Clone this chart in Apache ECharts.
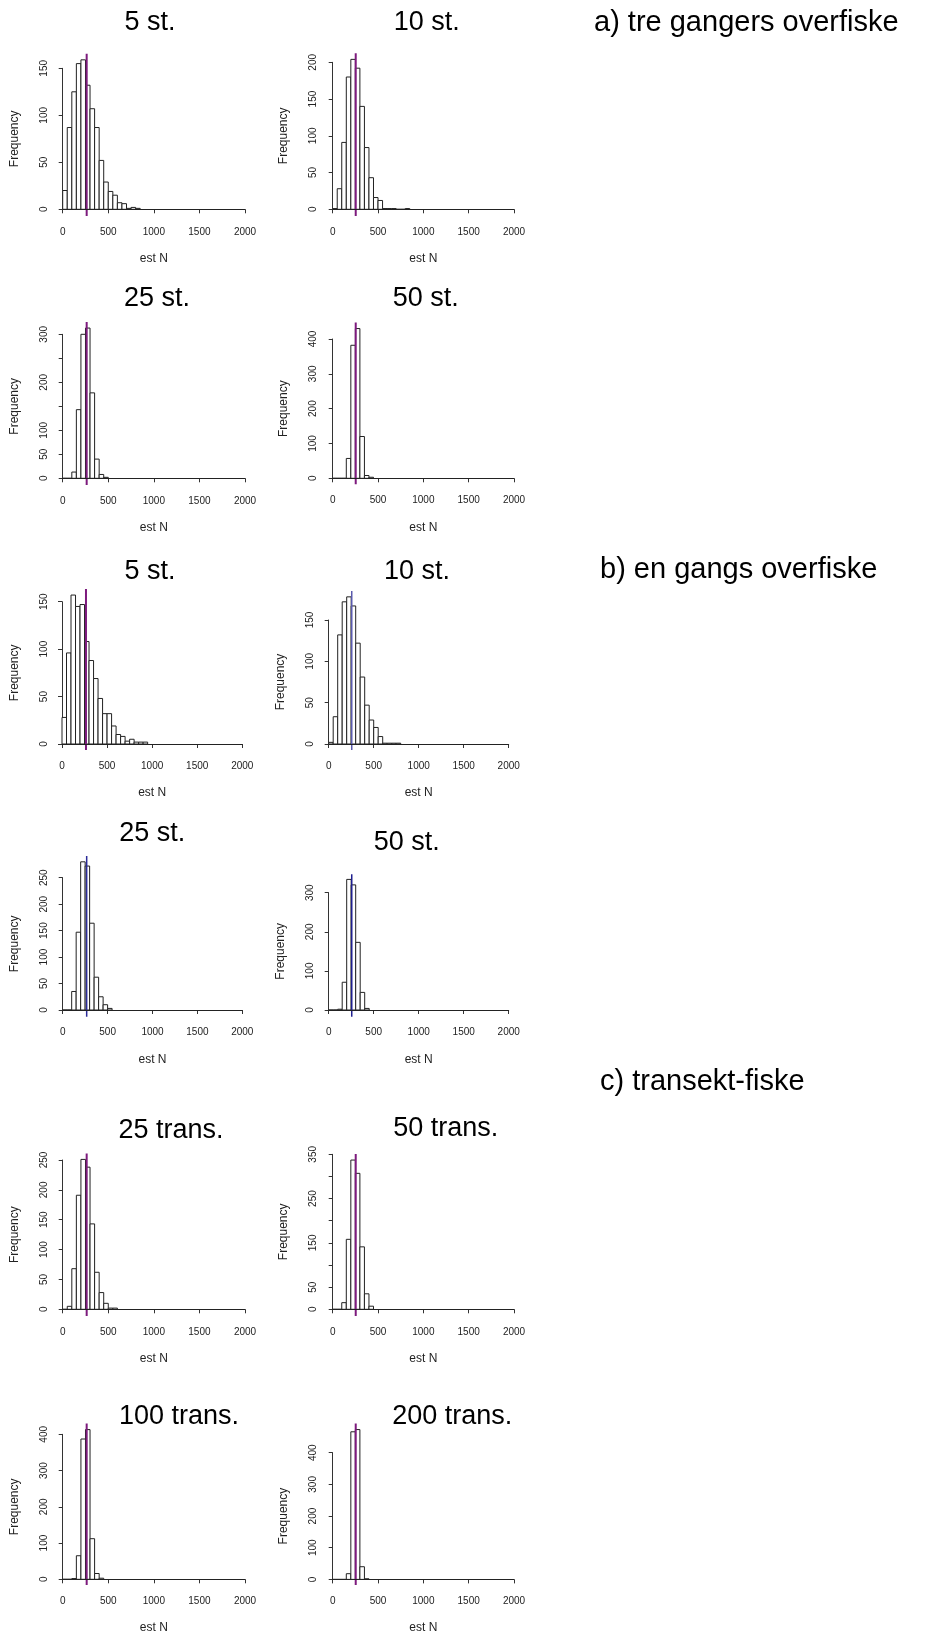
<!DOCTYPE html>
<html>
<head>
<meta charset="utf-8">
<title>est N</title>
<script src="https://cdn.jsdelivr.net/npm/echarts@6/dist/echarts.min.js"></script>
<style>
  html, body { margin: 0; padding: 0; background: #fff; }
  #chart { width: 925px; height: 1631px; }
</style>
</head>
<body>
<div id="chart"></div>
<script>
// histogram bins: width 50, starting at 0
const binWidth = 50;
const xMax = 2000;

// a) tre gangers overfiske
const a5st = [20, 87, 125, 155, 159, 132, 107, 87, 52, 29, 19, 15, 7, 6, 1, 2, 1];
const a10st = [1, 28, 91, 180, 204, 192, 140, 84, 43, 16, 12, 1, 1, 1, 0, 0, 1];
const a25st = [0, 0, 13, 143, 300, 313, 178, 40, 8, 2];
const a50st = [0, 0, 0, 57, 382, 430, 120, 8, 3];
// b) en gangs overfiske
const b5st = [28, 96, 157, 145, 147, 108, 88, 69, 48, 32, 32, 19, 10, 8, 3, 5, 2, 2, 2];
const b10st = [2, 33, 132, 172, 178, 167, 122, 81, 47, 29, 20, 9, 1, 1, 1, 1];
const b25st = [0, 0, 35, 147, 280, 272, 164, 62, 25, 10, 3];
const b50st = [0, 0, 2, 71, 334, 320, 173, 45, 4];
// c) transekt-fiske
const c25tr = [0, 5, 68, 191, 251, 238, 143, 62, 28, 10, 2, 2];
const c50tr = [0, 0, 15, 158, 337, 307, 141, 35, 7];
const c100tr = [0, 0, 2, 65, 387, 413, 112, 16, 3];
const c200tr = [0, 0, 0, 18, 466, 473, 40, 2];

// vertical reference line (est N)
const lineN = [263, 254, 263, 254, 266, 256, 267, 256, 263, 254, 263, 254];

const titles = ['5 st.', '10 st.', '25 st.', '50 st.', '5 st.', '10 st.', '25 st.', '50 st.',
  '25 trans.', '50 trans.', '100 trans.', '200 trans.'];
const yMaxTicks = [150, 200, 300, 400, 150, 150, 250, 300, 250, 350, 400, 400];
const ySteps = [50, 50, 50, 100, 50, 50, 50, 100, 50, 50, 100, 100];
const yLabels = [
  [0, 50, 100, 150], [0, 50, 100, 150, 200], [0, 50, 100, 200, 300], [0, 100, 200, 300, 400],
  [0, 50, 100, 150], [0, 50, 100, 150], [0, 50, 100, 150, 200, 250], [0, 100, 200, 300],
  [0, 50, 100, 150, 200, 250], [0, 50, 150, 250, 350], [0, 100, 200, 300, 400], [0, 100, 200, 300, 400]
];
const xTickLabels = [0, 500, 1000, 1500, 2000];
const groupLabels = ['a) tre gangers overfiske', 'b) en gangs overfiske', 'c) transekt-fiske'];

const counts = [a5st, a10st, a25st, a50st, b5st, b10st, b25st, b50st, c25tr, c50tr, c100tr, c200tr];

const purple = '#7d1a7d';
const lineColors = [purple, purple, purple, purple, purple, '#5a5aae', '#2b2b99', '#1f1f8f',
  purple, purple, purple, purple];

// plot positions (px): left = x of 0, width to 2000, top = y of last tick, height to 0
const layout = [
  { left: 62.7, width: 182.3, top: 68.3, height: 141, xOff: 6.7, yOff: 7.7, tx: 150, ty: 23 },
  { left: 332.7, width: 181.3, top: 62.3, height: 147, xOff: 6.7, yOff: 8.7, tx: 426.7, ty: 23 },
  { left: 62.7, width: 182.3, top: 334.3, height: 144, xOff: 6.7, yOff: 7.7, tx: 157, ty: 299 },
  { left: 332.7, width: 181.3, top: 339, height: 139.3, xOff: 6, yOff: 8.7, tx: 425.7, ty: 299 },
  { left: 62, width: 180.3, top: 601.7, height: 142.3, xOff: 6, yOff: 7, tx: 150, ty: 572 },
  { left: 328.7, width: 180, top: 620, height: 124, xOff: 6, yOff: 7.7, tx: 417, ty: 572 },
  { left: 62.7, width: 179.6, top: 877.7, height: 132.3, xOff: 6.7, yOff: 7.7, tx: 152.3, ty: 834 },
  { left: 328.7, width: 180, top: 892.7, height: 117.3, xOff: 6.7, yOff: 7.7, tx: 406.7, ty: 843 },
  { left: 62.7, width: 182.3, top: 1160, height: 149.3, xOff: 6.7, yOff: 7.7, tx: 171, ty: 1130.5 },
  { left: 332.7, width: 181.3, top: 1154.3, height: 155, xOff: 6.7, yOff: 8.7, tx: 445.7, ty: 1129 },
  { left: 62.7, width: 182.3, top: 1434.3, height: 145, xOff: 5.7, yOff: 7.7, tx: 179, ty: 1416.5 },
  { left: 332.7, width: 181.3, top: 1452.7, height: 126.7, xOff: 5.7, yOff: 8.7, tx: 452.3, ty: 1416.5 }
];
const groupPos = [[594, 23], [600, 570], [600, 1082]];

const font = "'Liberation Sans', Arial, sans-serif";
const axisColor = '#333';

const renderBar = (params, api) => {
  const p0 = api.coord([api.value(0), api.value(2)]);
  const p1 = api.coord([api.value(1), 0]);
  return {
    type: 'rect',
    shape: { x: p0[0], y: p0[1], width: p1[0] - p0[0], height: p1[1] - p0[1] },
    style: { fill: '#fff', stroke: '#222', lineWidth: 1 }
  };
};

const grid = [], xAxis = [], yAxis = [], series = [], graphic = [];

counts.forEach((c, i) => {
  const L = layout[i];
  grid.push({ left: L.left, top: L.top, width: L.width, height: L.height, containLabel: false, outerBoundsMode: 'none' });
  xAxis.push({
    gridIndex: i, type: 'value', min: 0, max: xMax, interval: 500, offset: L.xOff,
    name: 'est N', nameLocation: 'middle', nameGap: 37,
    nameTextStyle: { fontFamily: font, fontSize: 12, color: '#222' },
    axisLine: { show: true, lineStyle: { color: axisColor, width: 1 } },
    axisTick: { show: true, length: 4, lineStyle: { color: axisColor } },
    axisLabel: {
      fontFamily: font, fontSize: 10, color: '#222', margin: 11, showMinLabel: true, showMaxLabel: true,
      formatter: v => xTickLabels.includes(v) ? String(v) : ''
    },
    splitLine: { show: false }
  });
  yAxis.push({
    gridIndex: i, type: 'value', min: 0, max: yMaxTicks[i], interval: ySteps[i], offset: L.yOff,
    name: 'Frequency', nameLocation: 'middle', nameRotate: 90, nameGap: 34,
    nameTextStyle: { fontFamily: font, fontSize: 12, color: '#222' },
    axisLine: { show: true, lineStyle: { color: axisColor, width: 1 } },
    axisTick: { show: true, length: 4, lineStyle: { color: axisColor } },
    axisLabel: {
      fontFamily: font, fontSize: 10, color: '#222', rotate: 90, margin: 6,
      formatter: v => yLabels[i].includes(v) ? String(v) : ''
    },
    splitLine: { show: false }
  });

  const bins = c.map((v, k) => [k * binWidth, (k + 1) * binWidth, v]);
  series.push({
    type: 'custom', xAxisIndex: i, yAxisIndex: i, data: bins,
    renderItem: renderBar, clip: false, silent: true, z: 2
  });

  // reference line spans the plot region: from the x axis up to 4% above the tallest bar
  const topVal = Math.max(...c) * 1.04;
  const bottomVal = -L.xOff * yMaxTicks[i] / L.height;
  series.push({
    type: 'line', xAxisIndex: i, yAxisIndex: i,
    data: [[lineN[i], bottomVal], [lineN[i], topVal]],
    symbol: 'none', clip: false, silent: true, z: 4,
    lineStyle: { color: lineColors[i], width: i >= 5 && i <= 7 ? 1.5 : 2 },
    markLine: {
      silent: true, symbol: 'none', label: { show: false },
      lineStyle: { color: '#222', width: 1, type: 'solid' },
      data: [{ yAxis: 0 }]
    }
  });

  graphic.push({
    type: 'text', x: L.tx, y: L.ty,
    style: { text: titles[i], font: '27px ' + font, fill: '#000', align: 'center', verticalAlign: 'middle' }
  });
});

groupLabels.forEach((t, k) => {
  graphic.push({
    type: 'text', x: groupPos[k][0], y: groupPos[k][1],
    style: { text: t, font: '29px ' + font, fill: '#000', align: 'left', verticalAlign: 'middle' }
  });
});

const chart = echarts.init(document.getElementById('chart'), null, { renderer: 'canvas' });
chart.setOption({
  backgroundColor: '#fff',
  animation: false,
  grid, xAxis, yAxis, series, graphic
});
</script>
</body>
</html>
